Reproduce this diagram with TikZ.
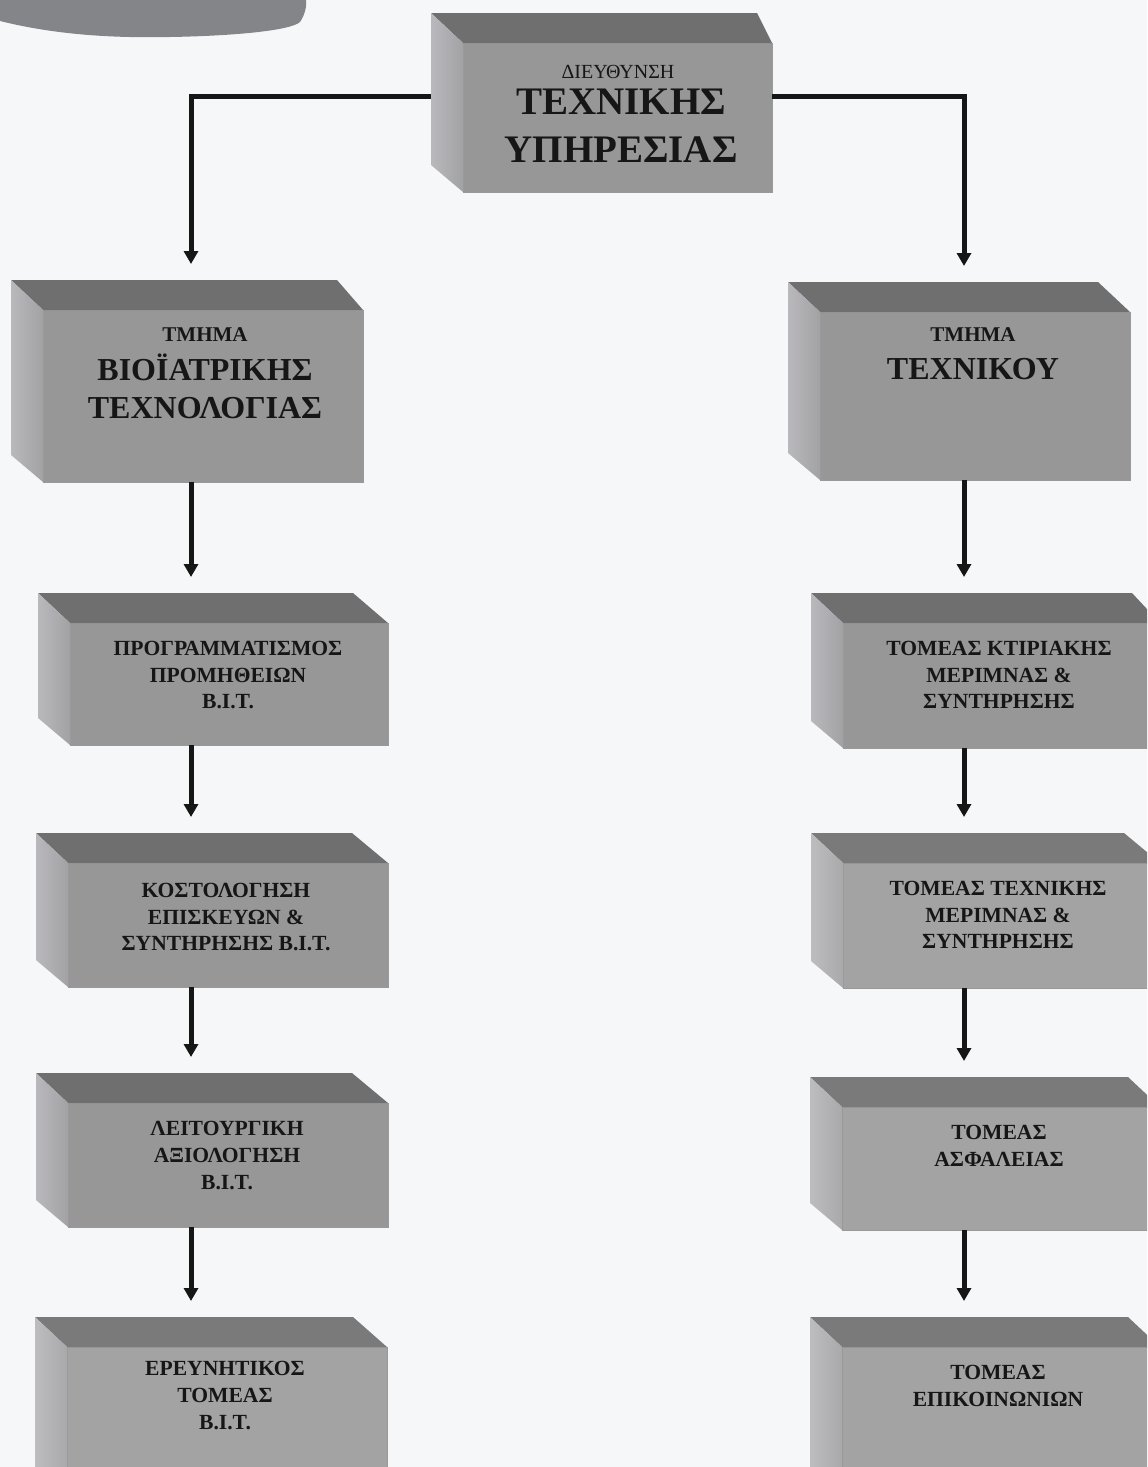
\documentclass[tikz,border=0pt]{standalone}
\usepackage{fontspec}
\setmainfont{Liberation Serif}
\usetikzlibrary{calc,fit,arrows.meta}

\definecolor{paper}{HTML}{F6F7F9}
\definecolor{ink}{HTML}{161616}
\definecolor{blob}{HTML}{848589}
% plain cubes
\definecolor{plainfront}{HTML}{979798}
\definecolor{plaintop}{HTML}{6F6F70}
\definecolor{plainsideA}{HTML}{B9B9BD}
\definecolor{plainsideB}{HTML}{A2A2A5}
% grained cubes
\definecolor{grainfront}{HTML}{A3A3A4}
\definecolor{graintop}{HTML}{7A7A7B}
\definecolor{grainsideA}{HTML}{BDBDC0}
\definecolor{grainsideB}{HTML}{A9A9AC}

\tikzset{
  front/.style={inner sep=0pt, outer sep=0pt, fill=#1front, draw=black!40, line width=0.3pt},
  conn/.style={line width=2.5pt, draw=ink, -{Triangle[width=7pt,length=6.5pt]}, shorten >=8pt},
  headtxt/.style={inner sep=0pt, text=ink, font=\fontsize{10}{12}\selectfont},
  unittxt/.style={inner sep=0pt, text=ink, font=\bfseries\fontsize{10.5}{12}\selectfont},
  bigtxt/.style={inner sep=0pt, text=ink, align=center, font=\bfseries\fontsize{19.5}{24}\selectfont},
  midtxt/.style={inner sep=0pt, text=ink, align=center, font=\bfseries\fontsize{16}{19}\selectfont},
  smalltxt/.style={inner sep=0pt, text=ink, align=center, font=\bfseries\fontsize{10.8}{13.3}\selectfont},
}

% cube: name, front-face corners x1 y1 x2 y2, inset of the back right corner, colour set
\newcommand\orgcube[7]{%
  \node[front=#7, fit={(#2,#3) (#4,#5)}] (#1-f) {};
  \fill[#7top] (#1-f.north west) -- ++(-32,-30)
     -- ([shift={(-#6,-30)}]#1-f.north east) -- (#1-f.north east) -- cycle;
  \shade[left color=#7sideA, right color=#7sideB] (#1-f.north west) -- ++(-32,-30)
     -- ([shift={(-32,-27)}]#1-f.south west) -- (#1-f.south west) -- cycle;
  \node[inner sep=0pt, outer sep=0pt, fit={([shift={(-32,-30)}]#2,#3) (#4,#5)}] (#1) {};
}

\begin{document}
\begin{tikzpicture}[x=0.5pt, y=-0.5pt]
  \useasboundingbox (0,0) rectangle (1147,1467);
  \clip (0,0) rectangle (1147,1467);
  \fill[paper] (0,0) rectangle (1147,1467);

  % grey shape in the upper left corner
  \fill[blob] (-2,0) -- (0,21) .. controls (60,36) and (120,38) .. (170,37)
     .. controls (230,36) and (290,31) .. (300,22)
     .. controls (305,15) and (307,5) .. (306,0) -- cycle;

  % column lines
  \coordinate (colL) at (191,0);
  \coordinate (colR) at (964,0);

  % cubes
  \orgcube{dir}{463}{43}{772}{192}{15}{plain}
  \orgcube{bio}{43}{310}{363}{482}{26}{plain}
  \orgcube{tech}{820}{312}{1130}{480}{32}{plain}
  \orgcube{prog}{70}{623}{388}{745}{35}{plain}
  \orgcube{cost}{68}{863}{388}{987}{36}{plain}
  \orgcube{func}{68}{1103}{388}{1227}{36}{plain}
  \orgcube{res}{67}{1347}{387}{1500}{34}{grain}
  \orgcube{bldg}{843}{623}{1160}{748}{28}{plain}
  \orgcube{techsec}{843}{863}{1160}{988}{36}{grain}
  \orgcube{safe}{842}{1107}{1160}{1230}{32}{grain}
  \orgcube{comm}{842}{1347}{1160}{1500}{32}{grain}

  % texts
  \node[headtxt] (dir-h) at (618,71.5) {ΔΙΕΥΘΥΝΣΗ};
  \node[bigtxt] (dir-t) at (621,126) {ΤΕΧΝΙΚΗΣ\\ΥΠΗΡΕΣΙΑΣ};

  \node[unittxt] (bio-h) at (205,334.5) {ΤΜΗΜΑ};
  \node[midtxt] (bio-t) at (205,386) {ΒΙΟΪΑΤΡΙΚΗΣ\\ΤΕΧΝΟΛΟΓΙΑΣ};

  \node[unittxt] (tech-h) at (973,335) {ΤΜΗΜΑ};
  \node[midtxt] (tech-t) at (973,369) {ΤΕΧΝΙΚΟΥ};

  \node[smalltxt] (prog-t) at (228,675) {ΠΡΟΓΡΑΜΜΑΤΙΣΜΟΣ\\ΠΡΟΜΗΘΕΙΩΝ\\Β.Ι.Τ.};
  \node[smalltxt] (cost-t) at (226,917) {ΚΟΣΤΟΛΟΓΗΣΗ\\ΕΠΙΣΚΕΥΩΝ \&\\ΣΥΝΤΗΡΗΣΗΣ Β.Ι.Τ.};
  \node[smalltxt] (func-t) at (227,1155.5) {ΛΕΙΤΟΥΡΓΙΚΗ\\ΑΞΙΟΛΟΓΗΣΗ\\Β.Ι.Τ.};
  \node[smalltxt] (res-t) at (225,1395.5) {ΕΡΕΥΝΗΤΙΚΟΣ\\ΤΟΜΕΑΣ\\Β.Ι.Τ.};

  \node[smalltxt] (bldg-t) at (999,675) {ΤΟΜΕΑΣ ΚΤΙΡΙΑΚΗΣ\\ΜΕΡΙΜΝΑΣ \&\\ΣΥΝΤΗΡΗΣΗΣ};
  \node[smalltxt] (techsec-t) at (998,915) {ΤΟΜΕΑΣ ΤΕΧΝΙΚΗΣ\\ΜΕΡΙΜΝΑΣ \&\\ΣΥΝΤΗΡΗΣΗΣ};
  \node[smalltxt] (safe-t) at (999,1146) {ΤΟΜΕΑΣ\\ΑΣΦΑΛΕΙΑΣ};
  \node[smalltxt] (comm-t) at (998,1386) {ΤΟΜΕΑΣ\\ΕΠΙΚΟΙΝΩΝΙΩΝ};

  % connectors
  \draw[conn] ([yshift=3.25pt]dir.west) -| (bio.north -| colL);
  \draw[conn] ([yshift=3.25pt]dir.east) -| (tech.north -| colR);

  \draw[conn] (bio.south -| colL) -- (prog.north -| colL);
  \draw[conn] (prog.south -| colL) -- (cost.north -| colL);
  \draw[conn] (cost.south -| colL) -- (func.north -| colL);
  \draw[conn] (func.south -| colL) -- (res.north -| colL);

  \draw[conn] (tech.south -| colR) -- (bldg.north -| colR);
  \draw[conn] (bldg.south -| colR) -- (techsec.north -| colR);
  \draw[conn] (techsec.south -| colR) -- (safe.north -| colR);
  \draw[conn] (safe.south -| colR) -- (comm.north -| colR);
\end{tikzpicture}
\end{document}
